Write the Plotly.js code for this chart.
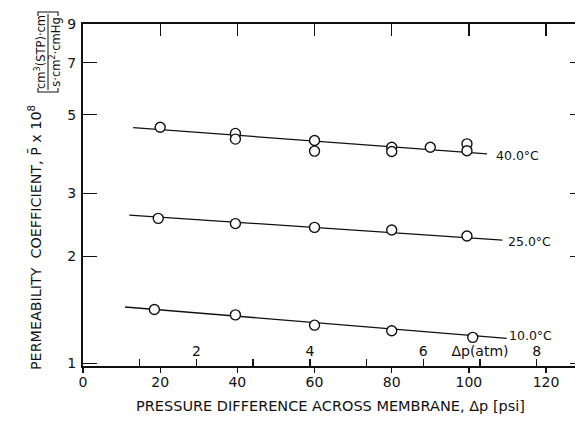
<!DOCTYPE html>
<html>
<head>
<meta charset="utf-8">
<script src="https://cdn.plot.ly/plotly-3.0.1.min.js"></script>
<style>html,body{margin:0;padding:0;background:#fff;}#chart{width:575px;height:423px;}</style>
</head>
<body>
<div id="chart"></div>
<script>
// ---- data ----
const psiTicks = [0, 20, 40, 60, 80, 100, 120];
const atmTicks = [1, 2, 3, 4, 5, 6, 7, 8];
const atmLabels = ['', '2', '', '4', '', '6', 'Δp(atm)', '8'];
const PSI_PER_ATM = 14.696;
const yTicks = [1, 2, 3, 5, 7, 9];

const p40 = [20, 39.5, 39.5, 60, 60, 80, 80, 90, 99.5, 99.5];
const v40 = [4.61, 4.43, 4.27, 4.23, 3.95, 4.05, 3.94, 4.05, 4.14, 3.96];
const fit40x = [13, 104.7];
const fit40y = [4.60, 3.88];

const p25 = [19.5, 39.5, 60, 80, 99.5];
const v25 = [2.555, 2.47, 2.41, 2.37, 2.28];
const fit25x = [12, 108.7];
const fit25y = [2.61, 2.22];

const p10 = [18.5, 39.5, 60, 80, 101];
const v10 = [1.415, 1.367, 1.279, 1.234, 1.182];
const fit10x = [10.9, 109.8];
const fit10y = [1.439, 1.174];

const seriesLabels = ['40.0°C', '25.0°C', '10.0°C'];

// ---- layout helpers ----
const W = 575, H = 423, ML = 83, MR = 0, MT = 24, MB = 57;
const PW = W - ML - MR, PH = H - MT - MB;
const px = x => (x - ML) / PW;
const py = y => (H - MB - y) / PH;
const XR = [0, 127.5];
const YR = [-0.008, Math.log10(9)];
const FONT = 'DejaVu Sans, sans-serif';
const INK = '#111';

const lineStyle = {color: INK, width: 1.3};
const markerStyle = {symbol: 'circle', size: 10, color: '#fff', line: {color: INK, width: 1.4}};

const traces = [
  {x: fit40x, y: fit40y, mode: 'lines', line: lineStyle, hoverinfo: 'skip'},
  {x: fit25x, y: fit25y, mode: 'lines', line: lineStyle, hoverinfo: 'skip'},
  {x: fit10x, y: fit10y, mode: 'lines', line: lineStyle, hoverinfo: 'skip'},
  {x: p40, y: v40, mode: 'markers', marker: markerStyle, cliponaxis: false},
  {x: p25, y: v25, mode: 'markers', marker: markerStyle, cliponaxis: false},
  {x: p10, y: v10, mode: 'markers', marker: markerStyle, cliponaxis: false},
  // carriers for the extra (top / atm / right) axes
  {x: fit10x, y: fit10y, xaxis: 'x2', yaxis: 'y', mode: 'markers', marker: {opacity: 0}, hoverinfo: 'skip'},
  {x: fit10x, y: fit10y, xaxis: 'x3', yaxis: 'y', mode: 'markers', marker: {opacity: 0}, hoverinfo: 'skip'},
  {x: fit10x, y: fit10y, xaxis: 'x', yaxis: 'y2', mode: 'markers', marker: {opacity: 0}, hoverinfo: 'skip'}
];

const fits = [[fit40x, fit40y, 7, -2], [fit25x, fit25y, 4, -1], [fit10x, fit10y, 0, 3]];
const annotations = fits.map((f, i) => ({
  x: f[0][1], y: Math.log10(f[1][1]), xref: 'x', yref: 'y',
  text: seriesLabels[i], showarrow: false, xanchor: 'left', yanchor: 'middle',
  xshift: f[2], yshift: f[3], font: {family: FONT, size: 12.5, color: INK}
}));

annotations.push(
  {x: px(330), y: py(406), xref: 'paper', yref: 'paper', showarrow: false,
   text: 'PRESSURE DIFFERENCE ACROSS MEMBRANE, Δp [psi]',
   font: {family: FONT, size: 14.5, color: INK}, xanchor: 'center', yanchor: 'middle'},
  {x: px(35), y: py(238), xref: 'paper', yref: 'paper', showarrow: false, textangle: -90,
   text: 'PERMEABILITY  COEFFICIENT, P\u0304 x 10<sup>8</sup>',
   font: {family: FONT, size: 14.3, color: INK}, xanchor: 'center', yanchor: 'middle'},
  {x: px(48), y: py(52), xref: 'paper', yref: 'paper', showarrow: false, textangle: -90,
   text: 'cm<sup>3</sup>(STP)·cm<br>s·cm<sup>2</sup>·cmHg',
   font: {family: FONT, size: 11.5, color: INK}, xanchor: 'center', yanchor: 'middle'}
);

const shapes = [
  {type: 'line', xref: 'paper', yref: 'paper', x0: px(48), x1: px(48), y0: py(14), y1: py(90),
   line: {color: INK, width: 1}},
  {type: 'path', xref: 'paper', yref: 'paper',
   path: `M ${px(38)} ${py(88)} L ${px(38)} ${py(92)} L ${px(58)} ${py(92)} L ${px(58)} ${py(88)}`,
   line: {color: INK, width: 1.1}},
  {type: 'path', xref: 'paper', yref: 'paper',
   path: `M ${px(38)} ${py(16)} L ${px(38)} ${py(12)} L ${px(58)} ${py(12)} L ${px(58)} ${py(16)}`,
   line: {color: INK, width: 1.1}}
];

const layout = {
  width: W, height: H,
  margin: {l: ML, r: MR, t: MT, b: MB, pad: 0},
  paper_bgcolor: '#fff', plot_bgcolor: '#fff',
  showlegend: false,
  font: {family: FONT, color: INK},
  xaxis: {
    range: XR, tickvals: psiTicks, ticks: 'outside', ticklen: 5, tickwidth: 1.3, tickcolor: INK,
    showline: true, linewidth: 2, linecolor: INK, showgrid: false, zeroline: false,
    tickfont: {family: FONT, size: 14, color: INK}, ticklabelstandoff: -3
  },
  xaxis2: {
    range: XR, overlaying: 'x', side: 'top', anchor: 'y', tickvals: psiTicks.slice(1),
    ticks: 'inside', ticklen: 12, tickwidth: 1.3, tickcolor: INK, showticklabels: false,
    showline: true, linewidth: 1.6, linecolor: INK, showgrid: false, zeroline: false
  },
  xaxis3: {
    range: XR, overlaying: 'x', side: 'top', anchor: 'free', position: 0,
    tickvals: atmTicks.map(a => a * PSI_PER_ATM), ticktext: atmLabels,
    ticks: 'outside', ticklen: 7, tickwidth: 1.4, tickcolor: INK,
    tickfont: {family: FONT, size: 14, color: INK}, ticklabelstandoff: -3,
    showline: false, showgrid: false, zeroline: false
  },
  yaxis: {
    type: 'log', range: YR, tickvals: yTicks, ticktext: yTicks.map(String),
    ticks: 'inside', ticklen: 14, tickwidth: 1.3, tickcolor: INK,
    showline: true, linewidth: 2, linecolor: INK, showgrid: false, zeroline: false,
    tickfont: {family: FONT, size: 14, color: INK}, ticklabelstandoff: 2
  },
  yaxis2: {
    type: 'log', range: YR, overlaying: 'y', side: 'right', anchor: 'x', tickvals: yTicks,
    ticks: 'inside', ticklen: 5, tickwidth: 1.3, tickcolor: INK, showticklabels: false,
    showline: false, showgrid: false, zeroline: false
  },
  annotations: annotations,
  shapes: shapes
};

Plotly.newPlot('chart', traces, layout, {staticPlot: true, displayModeBar: false});
</script>
</body>
</html>
